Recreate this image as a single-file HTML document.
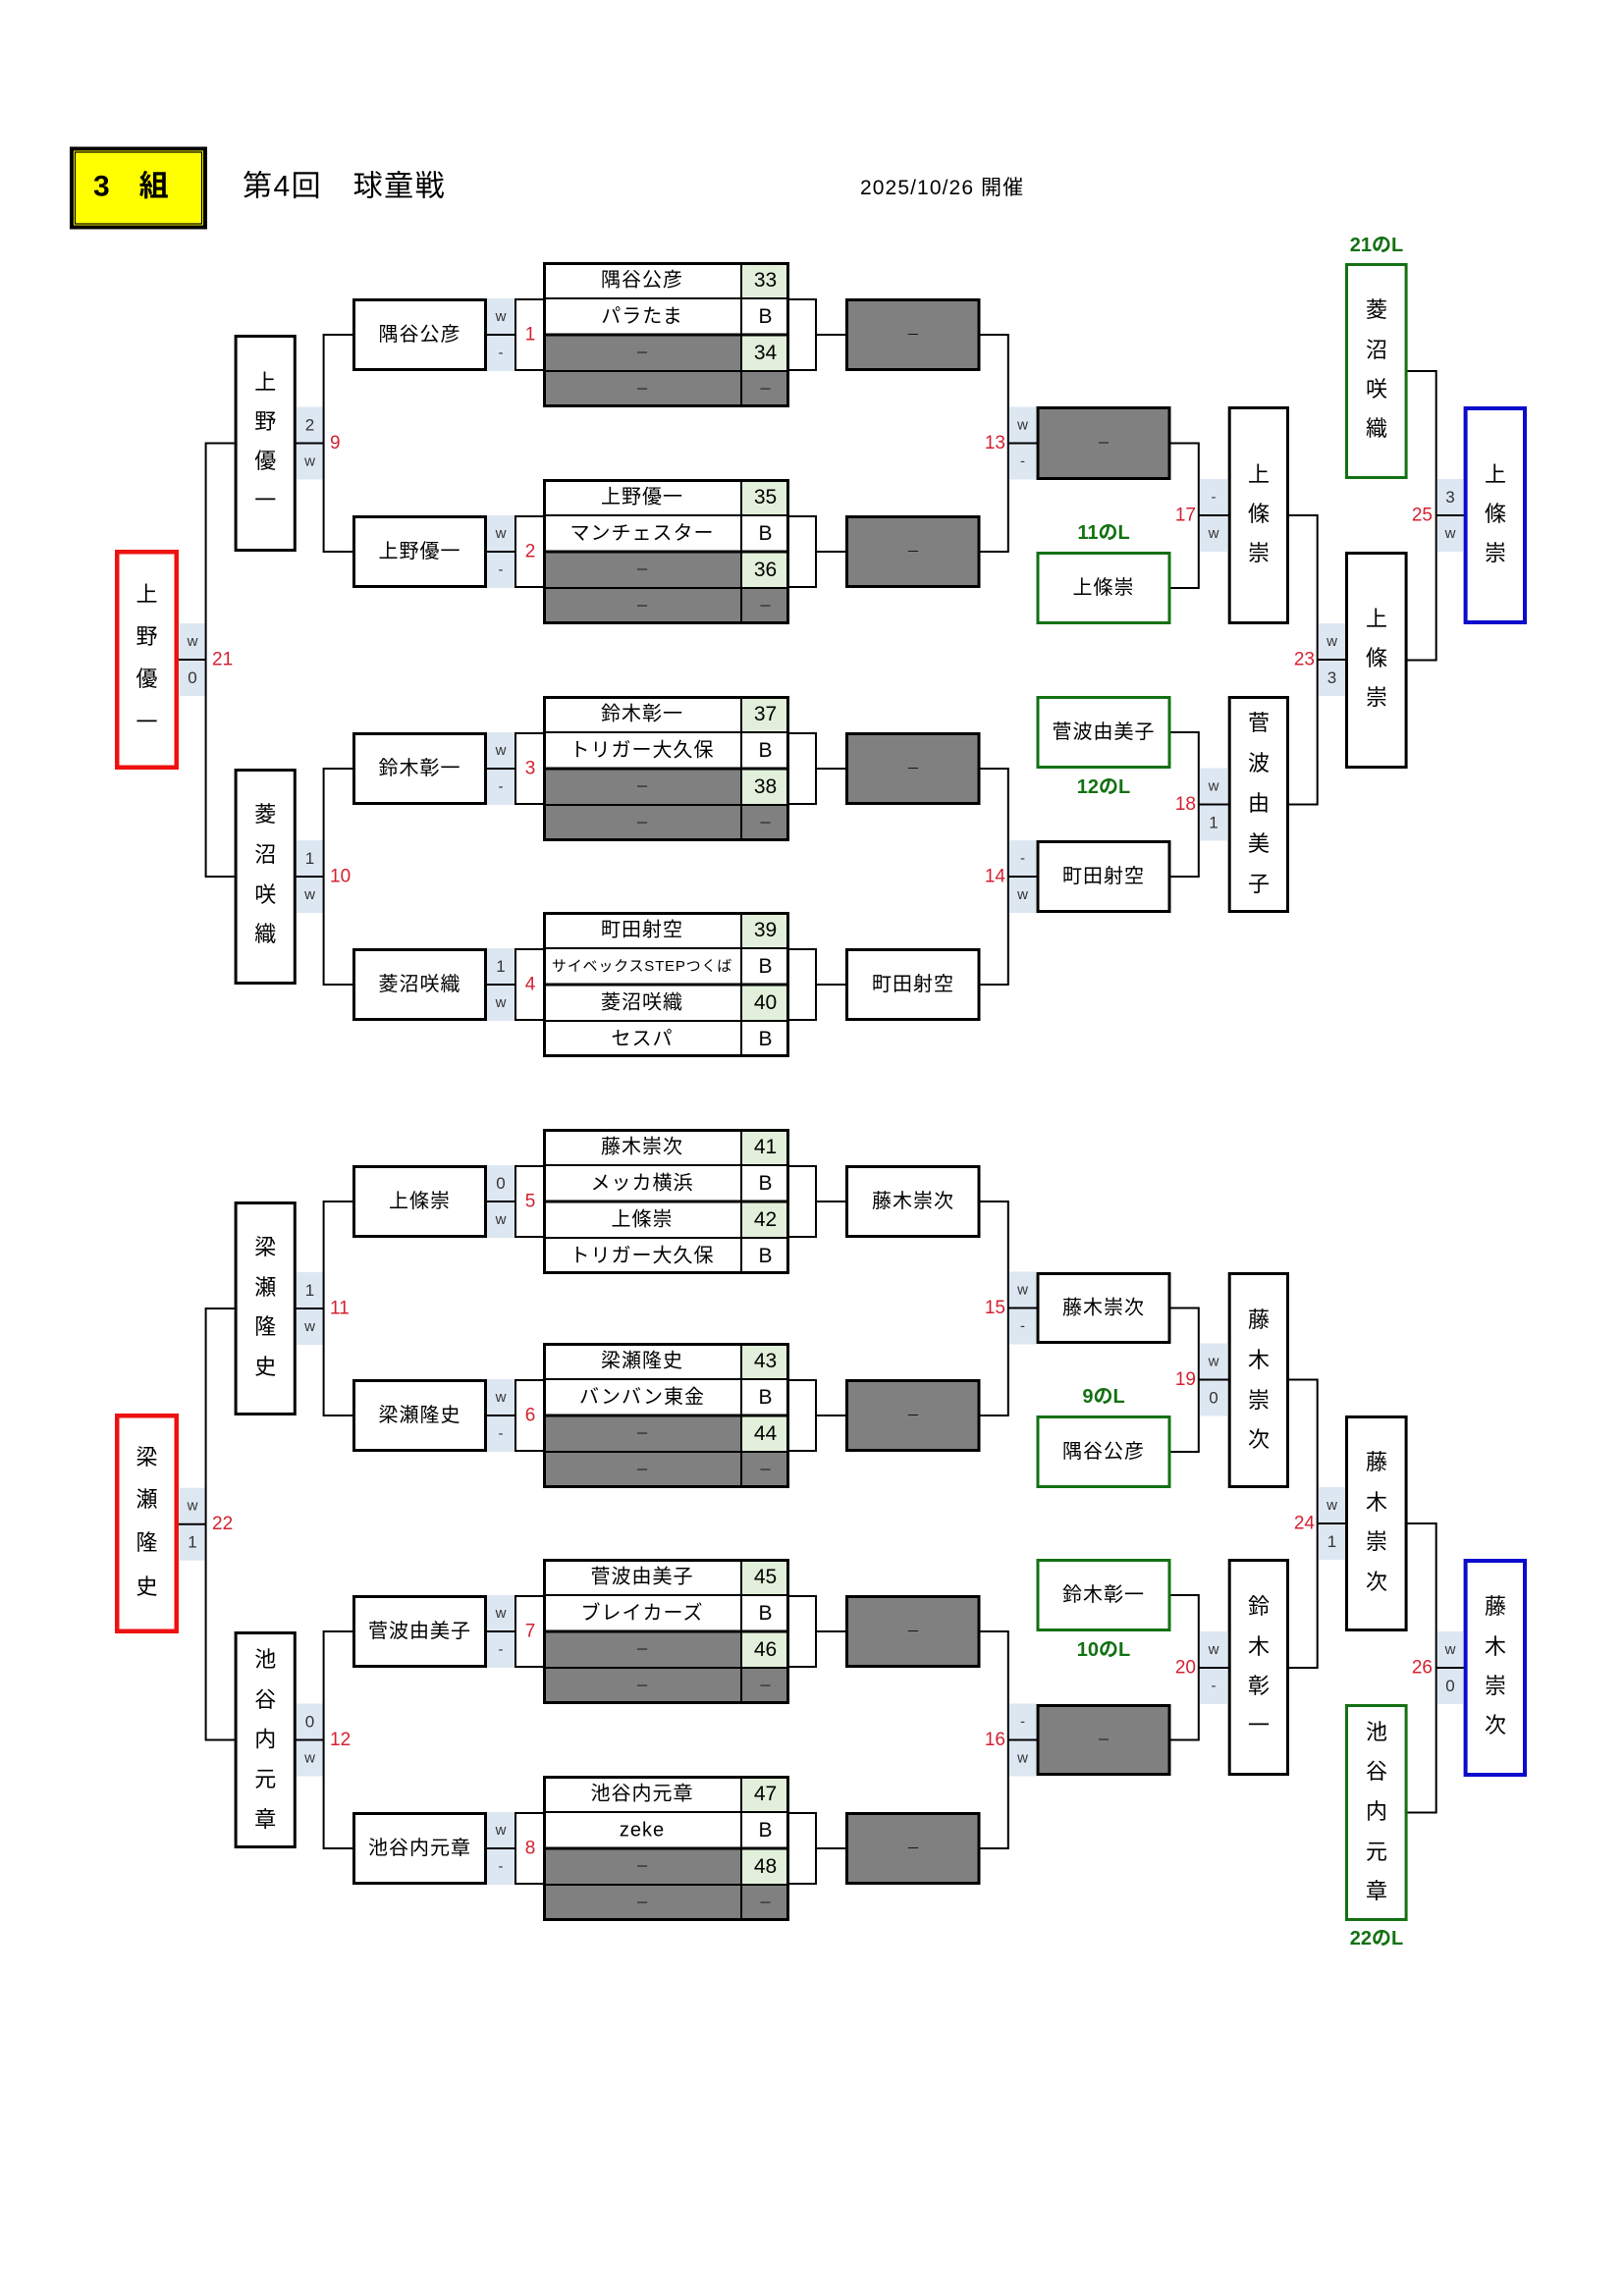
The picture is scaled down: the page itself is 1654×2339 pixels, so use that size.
<!DOCTYPE html>
<html><head><meta charset="utf-8"><title>3組 第4回 球童戦</title>
<style>
html,body{margin:0;padding:0;background:#fff;}
svg{display:block;}
text{font-family:"Liberation Sans","Noto Sans CJK JP",sans-serif;}
.n{font-size:20px;letter-spacing:1px;text-anchor:middle;dominant-baseline:central;}
.ns{font-size:15px;letter-spacing:0.8px;text-anchor:middle;dominant-baseline:central;}
.num{font-size:21px;text-anchor:middle;dominant-baseline:central;}
.c{font-size:15px;fill:#333;text-anchor:middle;dominant-baseline:central;}
.cd{font-size:17px;fill:#333;text-anchor:middle;dominant-baseline:central;}
.r{font-size:19px;fill:#d42030;dominant-baseline:central;}
.rm{font-size:19px;fill:#d42030;dominant-baseline:central;text-anchor:middle;}
.re{font-size:19px;fill:#d42030;dominant-baseline:central;text-anchor:end;}
.v{font-size:22px;text-anchor:middle;dominant-baseline:central;}
.g{font-size:20px;font-weight:bold;fill:#137113;text-anchor:middle;dominant-baseline:central;}
.d{font-size:14px;fill:#111;text-anchor:middle;dominant-baseline:central;}
.bx{fill:#fff;stroke:#000;stroke-width:3;}
.bxn{fill:none;stroke:#000;stroke-width:3;}
.gr{fill:#808080;}
.gb{fill:#fff;stroke:#137113;stroke-width:3;}
.rb{fill:#fff;stroke:#ee1111;stroke-width:4.5;}
.bb{fill:#fff;stroke:#0b0bcc;stroke-width:4;}
.thin{fill:#fff;stroke:#000;stroke-width:2;}
.ln{fill:none;stroke:#000;stroke-width:2;}
.lt{fill:none;stroke:#000;stroke-width:3;}
.cell{fill:#dde7f2;}
</style></head>
<body>
<svg width="1654" height="2339" viewBox="0 0 1654 2339" xmlns="http://www.w3.org/2000/svg">
<rect x="0" y="0" width="1654" height="2339" fill="#fff"/>

<!-- Header -->
<rect x="73" y="151.5" width="136" height="80" fill="#ffff00" stroke="#000" stroke-width="4"/>
<rect x="76.5" y="155" width="129" height="73" fill="none" stroke="#000" stroke-width="1.2"/>
<text x="95" y="190" style="font-size:30px;font-weight:bold;dominant-baseline:central;">3　組</text>
<text x="247" y="190" style="font-size:30px;letter-spacing:1.5px;dominant-baseline:central;">第4回　球童戦</text>
<text x="876" y="191.5" style="font-size:21px;letter-spacing:1.1px;dominant-baseline:central;">2025/10/26 開催</text>

<!-- ============ blue cells (behind lines) ============ -->
<rect class="cell" x="302" y="414.5" width="27" height="74"/>
<rect class="cell" x="302" y="856" width="27" height="74"/>
<rect class="cell" x="302" y="1296" width="27" height="74"/>
<rect class="cell" x="302" y="1735.5" width="27" height="74"/>
<rect class="cell" x="182.5" y="635" width="27" height="74"/>
<rect class="cell" x="182.5" y="1515.7" width="27" height="74"/>
<rect class="cell" x="1028" y="414.5" width="27" height="74"/>
<rect class="cell" x="1028" y="856" width="27" height="74"/>
<rect class="cell" x="1028" y="1295.5" width="27" height="74"/>
<rect class="cell" x="1028" y="1735.5" width="27" height="74"/>
<rect class="cell" x="1222" y="488" width="28" height="74"/>
<rect class="cell" x="1222" y="782.5" width="28" height="74"/>
<rect class="cell" x="1222" y="1368.5" width="28" height="74"/>
<rect class="cell" x="1222" y="1662" width="28" height="74"/>
<rect class="cell" x="1343" y="635" width="27" height="74"/>
<rect class="cell" x="1343" y="1515" width="27" height="74"/>
<rect class="cell" x="1464" y="488" width="26" height="74"/>
<rect class="cell" x="1464" y="1662" width="26" height="74"/>

<!-- ============ bracket lines ============ -->
<polyline class="ln" points="359,341 329.6,341 329.6,562 359,562"/>
<line class="ln" x1="301" y1="451.5" x2="329.6" y2="451.5"/>
<polyline class="ln" points="359,783 329.6,783 329.6,1003 359,1003"/>
<line class="ln" x1="301" y1="893" x2="329.6" y2="893"/>
<polyline class="ln" points="359,1224 329.6,1224 329.6,1442 359,1442"/>
<line class="ln" x1="301" y1="1333" x2="329.6" y2="1333"/>
<polyline class="ln" points="359,1662 329.6,1662 329.6,1883 359,1883"/>
<line class="ln" x1="301" y1="1772.5" x2="329.6" y2="1772.5"/>
<polyline class="ln" points="238.6,451.5 209.6,451.5 209.6,893 238.6,893"/>
<line class="ln" x1="181" y1="672" x2="209.6" y2="672"/>
<polyline class="ln" points="238.6,1333 209.6,1333 209.6,1772.5 238.6,1772.5"/>
<line class="ln" x1="181" y1="1552.7" x2="209.6" y2="1552.7"/>

<polyline class="ln" points="998,341 1026.8,341 1026.8,562 998,562"/>
<line class="ln" x1="1026.8" y1="451.5" x2="1056" y2="451.5"/>
<polyline class="ln" points="998,783 1026.8,783 1026.8,1003 998,1003"/>
<line class="ln" x1="1026.8" y1="893" x2="1056" y2="893"/>
<polyline class="ln" points="998,1224 1026.8,1224 1026.8,1442 998,1442"/>
<line class="ln" x1="1026.8" y1="1332.5" x2="1056" y2="1332.5"/>
<polyline class="ln" points="998,1662 1026.8,1662 1026.8,1883 998,1883"/>
<line class="ln" x1="1026.8" y1="1772.5" x2="1056" y2="1772.5"/>

<polyline class="ln" points="1192,451.5 1220.8,451.5 1220.8,599 1192,599"/>
<line class="ln" x1="1220.8" y1="525" x2="1251" y2="525"/>
<polyline class="ln" points="1192,746 1220.8,746 1220.8,893 1192,893"/>
<line class="ln" x1="1220.8" y1="819.5" x2="1251" y2="819.5"/>
<polyline class="ln" points="1192,1332.5 1220.8,1332.5 1220.8,1479 1192,1479"/>
<line class="ln" x1="1220.8" y1="1405.5" x2="1251" y2="1405.5"/>
<polyline class="ln" points="1192,1625 1220.8,1625 1220.8,1772.5 1192,1772.5"/>
<line class="ln" x1="1220.8" y1="1699" x2="1251" y2="1699"/>

<polyline class="ln" points="1313,525 1341.7,525 1341.7,819.5 1313,819.5"/>
<line class="ln" x1="1341.7" y1="672" x2="1370" y2="672"/>
<polyline class="ln" points="1313,1405.5 1341.7,1405.5 1341.7,1699 1313,1699"/>
<line class="ln" x1="1341.7" y1="1552" x2="1370" y2="1552"/>

<polyline class="ln" points="1433,378 1462.7,378 1462.7,672.5 1433,672.5"/>
<line class="ln" x1="1462.7" y1="525" x2="1491" y2="525"/>
<polyline class="ln" points="1433,1552 1462.7,1552 1462.7,1846.5 1433,1846.5"/>
<line class="ln" x1="1462.7" y1="1699" x2="1491" y2="1699"/>

<!-- ============ cell texts ============ -->
<text class="cd" x="315.5" y="433">2</text><text class="c" x="315.5" y="470">w</text>
<text class="cd" x="315.5" y="874.5">1</text><text class="c" x="315.5" y="911.5">w</text>
<text class="cd" x="315.5" y="1314.5">1</text><text class="c" x="315.5" y="1351.5">w</text>
<text class="cd" x="315.5" y="1754">0</text><text class="c" x="315.5" y="1791">w</text>
<text class="c" x="196" y="653.5">w</text><text class="cd" x="196" y="690.5">0</text>
<text class="c" x="196" y="1534.2">w</text><text class="cd" x="196" y="1571.2">1</text>

<text class="c" x="1041.5" y="433">w</text><text class="c" x="1041.5" y="470">-</text>
<text class="c" x="1041.5" y="874.5">-</text><text class="c" x="1041.5" y="911.5">w</text>
<text class="c" x="1041.5" y="1314">w</text><text class="c" x="1041.5" y="1351">-</text>
<text class="c" x="1041.5" y="1754">-</text><text class="c" x="1041.5" y="1791">w</text>

<text class="c" x="1236" y="506.5">-</text><text class="c" x="1236" y="543.5">w</text>
<text class="c" x="1236" y="801">w</text><text class="cd" x="1236" y="838">1</text>
<text class="c" x="1236" y="1387">w</text><text class="cd" x="1236" y="1424">0</text>
<text class="c" x="1236" y="1680.5">w</text><text class="c" x="1236" y="1717.5">-</text>

<text class="c" x="1356.5" y="653.5">w</text><text class="cd" x="1356.5" y="690.5">3</text>
<text class="c" x="1356.5" y="1533.5">w</text><text class="cd" x="1356.5" y="1570.5">1</text>

<text class="cd" x="1477" y="506.5">3</text><text class="c" x="1477" y="543.5">w</text>
<text class="c" x="1477" y="1680.5">w</text><text class="cd" x="1477" y="1717.5">0</text>

<!-- ============ red match numbers ============ -->
<text class="r" x="336" y="451.5">9</text>
<text class="r" x="336" y="893">10</text>
<text class="r" x="336" y="1333">11</text>
<text class="r" x="336" y="1772.5">12</text>
<text class="r" x="216" y="672">21</text>
<text class="r" x="216" y="1552.7">22</text>
<text class="re" x="1024" y="451.5">13</text>
<text class="re" x="1024" y="893">14</text>
<text class="re" x="1024" y="1332.5">15</text>
<text class="re" x="1024" y="1772.5">16</text>
<text class="re" x="1218" y="525">17</text>
<text class="re" x="1218" y="819.5">18</text>
<text class="re" x="1218" y="1405.5">19</text>
<text class="re" x="1218" y="1699">20</text>
<text class="re" x="1339" y="672">23</text>
<text class="re" x="1339" y="1552">24</text>
<text class="re" x="1459" y="525">25</text>
<text class="re" x="1459" y="1699">26</text>

<!-- ============ R1 groups (tables) ============ -->
<!-- T1 -->
<g transform="translate(0,267)">
<rect class="thin" x="525" y="38" width="306" height="72"/>
<line class="ln" x1="831" y1="74" x2="862" y2="74"/>
<rect class="cell" x="496" y="37" width="28" height="74"/>
<line class="ln" x1="495" y1="74" x2="525" y2="74"/>
<text class="c" x="510" y="55.5">w</text><text class="c" x="510" y="92.5">-</text>
<text class="rm" x="540" y="74">1</text>
<rect class="bx" x="360.5" y="38.5" width="134" height="71"/>
<text class="n" x="427.5" y="74">隅谷公彦</text>
<rect class="bx gr" x="862.5" y="38.5" width="134.5" height="71"/>
<text class="d" x="930" y="74">－</text>
<rect x="553" y="0" width="202" height="74" fill="#fff"/>
<rect x="553" y="74" width="202" height="74" fill="#808080"/>
<rect x="755" y="0" width="49" height="37" fill="#e2efda"/>
<rect x="755" y="37" width="49" height="37" fill="#fff"/>
<rect x="755" y="74" width="49" height="37" fill="#e2efda"/>
<rect x="755" y="111" width="49" height="37" fill="#808080"/>
<path class="ln" d="M553 37H804M553 111H804M755 0V148"/>
<path class="lt" d="M553 74H804"/>
<rect class="bxn" x="554.5" y="1.5" width="248" height="145"/>
<text class="n" x="654" y="18.5">隅谷公彦</text><text class="num" x="779.5" y="18.5">33</text>
<text class="n" x="654" y="55.5">パラたま</text><text class="num" x="779.5" y="55.5">B</text>
<text class="d" x="654" y="92.5">－</text><text class="num" x="779.5" y="92.5">34</text>
<text class="d" x="654" y="129.5">－</text><text class="d" x="779.5" y="129.5">－</text>
</g>

<!-- T2 -->
<g transform="translate(0,488)">
<rect class="thin" x="525" y="38" width="306" height="72"/>
<line class="ln" x1="831" y1="74" x2="862" y2="74"/>
<rect class="cell" x="496" y="37" width="28" height="74"/>
<line class="ln" x1="495" y1="74" x2="525" y2="74"/>
<text class="c" x="510" y="55.5">w</text><text class="c" x="510" y="92.5">-</text>
<text class="rm" x="540" y="74">2</text>
<rect class="bx" x="360.5" y="38.5" width="134" height="71"/>
<text class="n" x="427.5" y="74">上野優一</text>
<rect class="bx gr" x="862.5" y="38.5" width="134.5" height="71"/>
<text class="d" x="930" y="74">－</text>
<rect x="553" y="0" width="202" height="74" fill="#fff"/>
<rect x="553" y="74" width="202" height="74" fill="#808080"/>
<rect x="755" y="0" width="49" height="37" fill="#e2efda"/>
<rect x="755" y="37" width="49" height="37" fill="#fff"/>
<rect x="755" y="74" width="49" height="37" fill="#e2efda"/>
<rect x="755" y="111" width="49" height="37" fill="#808080"/>
<path class="ln" d="M553 37H804M553 111H804M755 0V148"/>
<path class="lt" d="M553 74H804"/>
<rect class="bxn" x="554.5" y="1.5" width="248" height="145"/>
<text class="n" x="654" y="18.5">上野優一</text><text class="num" x="779.5" y="18.5">35</text>
<text class="n" x="654" y="55.5">マンチェスター</text><text class="num" x="779.5" y="55.5">B</text>
<text class="d" x="654" y="92.5">－</text><text class="num" x="779.5" y="92.5">36</text>
<text class="d" x="654" y="129.5">－</text><text class="d" x="779.5" y="129.5">－</text>
</g>

<!-- T3 -->
<g transform="translate(0,709)">
<rect class="thin" x="525" y="38" width="306" height="72"/>
<line class="ln" x1="831" y1="74" x2="862" y2="74"/>
<rect class="cell" x="496" y="37" width="28" height="74"/>
<line class="ln" x1="495" y1="74" x2="525" y2="74"/>
<text class="c" x="510" y="55.5">w</text><text class="c" x="510" y="92.5">-</text>
<text class="rm" x="540" y="74">3</text>
<rect class="bx" x="360.5" y="38.5" width="134" height="71"/>
<text class="n" x="427.5" y="74">鈴木彰一</text>
<rect class="bx gr" x="862.5" y="38.5" width="134.5" height="71"/>
<text class="d" x="930" y="74">－</text>
<rect x="553" y="0" width="202" height="74" fill="#fff"/>
<rect x="553" y="74" width="202" height="74" fill="#808080"/>
<rect x="755" y="0" width="49" height="37" fill="#e2efda"/>
<rect x="755" y="37" width="49" height="37" fill="#fff"/>
<rect x="755" y="74" width="49" height="37" fill="#e2efda"/>
<rect x="755" y="111" width="49" height="37" fill="#808080"/>
<path class="ln" d="M553 37H804M553 111H804M755 0V148"/>
<path class="lt" d="M553 74H804"/>
<rect class="bxn" x="554.5" y="1.5" width="248" height="145"/>
<text class="n" x="654" y="18.5">鈴木彰一</text><text class="num" x="779.5" y="18.5">37</text>
<text class="n" x="654" y="55.5">トリガー大久保</text><text class="num" x="779.5" y="55.5">B</text>
<text class="d" x="654" y="92.5">－</text><text class="num" x="779.5" y="92.5">38</text>
<text class="d" x="654" y="129.5">－</text><text class="d" x="779.5" y="129.5">－</text>
</g>

<!-- T4 -->
<g transform="translate(0,929)">
<rect class="thin" x="525" y="38" width="306" height="72"/>
<line class="ln" x1="831" y1="74" x2="862" y2="74"/>
<rect class="cell" x="496" y="37" width="28" height="74"/>
<line class="ln" x1="495" y1="74" x2="525" y2="74"/>
<text class="cd" x="510" y="55.5">1</text><text class="c" x="510" y="92.5">w</text>
<text class="rm" x="540" y="74">4</text>
<rect class="bx" x="360.5" y="38.5" width="134" height="71"/>
<text class="n" x="427.5" y="74">菱沼咲織</text>
<rect class="bx" x="862.5" y="38.5" width="134.5" height="71"/>
<text class="n" x="930" y="74">町田射空</text>
<rect x="553" y="0" width="202" height="148" fill="#fff"/>
<rect x="755" y="0" width="49" height="37" fill="#e2efda"/>
<rect x="755" y="37" width="49" height="37" fill="#fff"/>
<rect x="755" y="74" width="49" height="37" fill="#e2efda"/>
<rect x="755" y="111" width="49" height="37" fill="#fff"/>
<path class="ln" d="M553 37H804M553 111H804M755 0V148"/>
<path class="lt" d="M553 74H804"/>
<rect class="bxn" x="554.5" y="1.5" width="248" height="145"/>
<text class="n" x="654" y="18.5">町田射空</text><text class="num" x="779.5" y="18.5">39</text>
<text class="ns" x="654" y="55.5">サイベックスSTEPつくば</text><text class="num" x="779.5" y="55.5">B</text>
<text class="n" x="654" y="92.5">菱沼咲織</text><text class="num" x="779.5" y="92.5">40</text>
<text class="n" x="654" y="129.5">セスパ</text><text class="num" x="779.5" y="129.5">B</text>
</g>

<!-- T5 -->
<g transform="translate(0,1150)">
<rect class="thin" x="525" y="38" width="306" height="72"/>
<line class="ln" x1="831" y1="74" x2="862" y2="74"/>
<rect class="cell" x="496" y="37" width="28" height="74"/>
<line class="ln" x1="495" y1="74" x2="525" y2="74"/>
<text class="cd" x="510" y="55.5">0</text><text class="c" x="510" y="92.5">w</text>
<text class="rm" x="540" y="74">5</text>
<rect class="bx" x="360.5" y="38.5" width="134" height="71"/>
<text class="n" x="427.5" y="74">上條崇</text>
<rect class="bx" x="862.5" y="38.5" width="134.5" height="71"/>
<text class="n" x="930" y="74">藤木崇次</text>
<rect x="553" y="0" width="202" height="148" fill="#fff"/>
<rect x="755" y="0" width="49" height="37" fill="#e2efda"/>
<rect x="755" y="37" width="49" height="37" fill="#fff"/>
<rect x="755" y="74" width="49" height="37" fill="#e2efda"/>
<rect x="755" y="111" width="49" height="37" fill="#fff"/>
<path class="ln" d="M553 37H804M553 111H804M755 0V148"/>
<path class="lt" d="M553 74H804"/>
<rect class="bxn" x="554.5" y="1.5" width="248" height="145"/>
<text class="n" x="654" y="18.5">藤木崇次</text><text class="num" x="779.5" y="18.5">41</text>
<text class="n" x="654" y="55.5">メッカ横浜</text><text class="num" x="779.5" y="55.5">B</text>
<text class="n" x="654" y="92.5">上條崇</text><text class="num" x="779.5" y="92.5">42</text>
<text class="n" x="654" y="129.5">トリガー大久保</text><text class="num" x="779.5" y="129.5">B</text>
</g>

<!-- T6 -->
<g transform="translate(0,1368)">
<rect class="thin" x="525" y="38" width="306" height="72"/>
<line class="ln" x1="831" y1="74" x2="862" y2="74"/>
<rect class="cell" x="496" y="37" width="28" height="74"/>
<line class="ln" x1="495" y1="74" x2="525" y2="74"/>
<text class="c" x="510" y="55.5">w</text><text class="c" x="510" y="92.5">-</text>
<text class="rm" x="540" y="74">6</text>
<rect class="bx" x="360.5" y="38.5" width="134" height="71"/>
<text class="n" x="427.5" y="74">梁瀬隆史</text>
<rect class="bx gr" x="862.5" y="38.5" width="134.5" height="71"/>
<text class="d" x="930" y="74">－</text>
<rect x="553" y="0" width="202" height="74" fill="#fff"/>
<rect x="553" y="74" width="202" height="74" fill="#808080"/>
<rect x="755" y="0" width="49" height="37" fill="#e2efda"/>
<rect x="755" y="37" width="49" height="37" fill="#fff"/>
<rect x="755" y="74" width="49" height="37" fill="#e2efda"/>
<rect x="755" y="111" width="49" height="37" fill="#808080"/>
<path class="ln" d="M553 37H804M553 111H804M755 0V148"/>
<path class="lt" d="M553 74H804"/>
<rect class="bxn" x="554.5" y="1.5" width="248" height="145"/>
<text class="n" x="654" y="18.5">梁瀬隆史</text><text class="num" x="779.5" y="18.5">43</text>
<text class="n" x="654" y="55.5">バンバン東金</text><text class="num" x="779.5" y="55.5">B</text>
<text class="d" x="654" y="92.5">－</text><text class="num" x="779.5" y="92.5">44</text>
<text class="d" x="654" y="129.5">－</text><text class="d" x="779.5" y="129.5">－</text>
</g>

<!-- T7 -->
<g transform="translate(0,1588)">
<rect class="thin" x="525" y="38" width="306" height="72"/>
<line class="ln" x1="831" y1="74" x2="862" y2="74"/>
<rect class="cell" x="496" y="37" width="28" height="74"/>
<line class="ln" x1="495" y1="74" x2="525" y2="74"/>
<text class="c" x="510" y="55.5">w</text><text class="c" x="510" y="92.5">-</text>
<text class="rm" x="540" y="74">7</text>
<rect class="bx" x="360.5" y="38.5" width="134" height="71"/>
<text class="n" x="427.5" y="74">菅波由美子</text>
<rect class="bx gr" x="862.5" y="38.5" width="134.5" height="71"/>
<text class="d" x="930" y="74">－</text>
<rect x="553" y="0" width="202" height="74" fill="#fff"/>
<rect x="553" y="74" width="202" height="74" fill="#808080"/>
<rect x="755" y="0" width="49" height="37" fill="#e2efda"/>
<rect x="755" y="37" width="49" height="37" fill="#fff"/>
<rect x="755" y="74" width="49" height="37" fill="#e2efda"/>
<rect x="755" y="111" width="49" height="37" fill="#808080"/>
<path class="ln" d="M553 37H804M553 111H804M755 0V148"/>
<path class="lt" d="M553 74H804"/>
<rect class="bxn" x="554.5" y="1.5" width="248" height="145"/>
<text class="n" x="654" y="18.5">菅波由美子</text><text class="num" x="779.5" y="18.5">45</text>
<text class="n" x="654" y="55.5">ブレイカーズ</text><text class="num" x="779.5" y="55.5">B</text>
<text class="d" x="654" y="92.5">－</text><text class="num" x="779.5" y="92.5">46</text>
<text class="d" x="654" y="129.5">－</text><text class="d" x="779.5" y="129.5">－</text>
</g>

<!-- T8 -->
<g transform="translate(0,1809)">
<rect class="thin" x="525" y="38" width="306" height="72"/>
<line class="ln" x1="831" y1="74" x2="862" y2="74"/>
<rect class="cell" x="496" y="37" width="28" height="74"/>
<line class="ln" x1="495" y1="74" x2="525" y2="74"/>
<text class="c" x="510" y="55.5">w</text><text class="c" x="510" y="92.5">-</text>
<text class="rm" x="540" y="74">8</text>
<rect class="bx" x="360.5" y="38.5" width="134" height="71"/>
<text class="n" x="427.5" y="74">池谷内元章</text>
<rect class="bx gr" x="862.5" y="38.5" width="134.5" height="71"/>
<text class="d" x="930" y="74">－</text>
<rect x="553" y="0" width="202" height="74" fill="#fff"/>
<rect x="553" y="74" width="202" height="74" fill="#808080"/>
<rect x="755" y="0" width="49" height="37" fill="#e2efda"/>
<rect x="755" y="37" width="49" height="37" fill="#fff"/>
<rect x="755" y="74" width="49" height="37" fill="#e2efda"/>
<rect x="755" y="111" width="49" height="37" fill="#808080"/>
<path class="ln" d="M553 37H804M553 111H804M755 0V148"/>
<path class="lt" d="M553 74H804"/>
<rect class="bxn" x="554.5" y="1.5" width="248" height="145"/>
<text class="n" x="654" y="18.5">池谷内元章</text><text class="num" x="779.5" y="18.5">47</text>
<text class="n" x="654" y="55.5">zeke</text><text class="num" x="779.5" y="55.5">B</text>
<text class="d" x="654" y="92.5">－</text><text class="num" x="779.5" y="92.5">48</text>
<text class="d" x="654" y="129.5">－</text><text class="d" x="779.5" y="129.5">－</text>
</g>

<!-- ============ left R2 / R3 boxes ============ -->
<rect class="bx" x="240.1" y="342.5" width="60.2" height="218"/>
<text class="v" x="270.2"><tspan x="270.2" y="389">上</tspan><tspan x="270.2" y="429">野</tspan><tspan x="270.2" y="469">優</tspan><tspan x="270.2" y="509">一</tspan></text>
<rect class="bx" x="240.1" y="784.5" width="60.2" height="217"/>
<text class="v" x="270.2"><tspan x="270.2" y="829">菱</tspan><tspan x="270.2" y="870">沼</tspan><tspan x="270.2" y="911">咲</tspan><tspan x="270.2" y="951">織</tspan></text>
<rect class="bx" x="240.1" y="1225.5" width="60.2" height="215"/>
<text class="v" x="270.2"><tspan x="270.2" y="1270">梁</tspan><tspan x="270.2" y="1311">瀬</tspan><tspan x="270.2" y="1351">隆</tspan><tspan x="270.2" y="1392">史</tspan></text>
<rect class="bx" x="240.1" y="1663.5" width="60.2" height="218"/>
<text class="v" x="270.2"><tspan x="270.2" y="1690">池</tspan><tspan x="270.2" y="1731">谷</tspan><tspan x="270.2" y="1771.5">内</tspan><tspan x="270.2" y="1812">元</tspan><tspan x="270.2" y="1853">章</tspan></text>

<rect class="rb" x="119.25" y="562.25" width="60.5" height="219.5"/>
<text class="v" x="149.5"><tspan x="149.5" y="605">上</tspan><tspan x="149.5" y="648">野</tspan><tspan x="149.5" y="691">優</tspan><tspan x="149.5" y="735">一</tspan></text>
<rect class="rb" x="119.25" y="1442.25" width="60.5" height="219.5"/>
<text class="v" x="149.5"><tspan x="149.5" y="1484">梁</tspan><tspan x="149.5" y="1527">瀬</tspan><tspan x="149.5" y="1571">隆</tspan><tspan x="149.5" y="1616">史</tspan></text>

<!-- ============ right col2 boxes ============ -->
<rect class="bx gr" x="1057" y="415.5" width="134" height="72"/>
<text class="d" x="1124" y="451.5">－</text>
<rect class="gb" x="1057" y="563.5" width="134" height="71"/>
<text class="n" x="1124" y="599">上條崇</text>
<text class="g" x="1124" y="543">11のL</text>
<rect class="gb" x="1057" y="710.5" width="134" height="71"/>
<text class="n" x="1124" y="746">菅波由美子</text>
<text class="g" x="1124" y="802">12のL</text>
<rect class="bx" x="1057" y="857.5" width="134" height="71"/>
<text class="n" x="1124" y="893">町田射空</text>

<rect class="bx" x="1057" y="1297.5" width="134" height="70"/>
<text class="n" x="1124" y="1332.5">藤木崇次</text>
<text class="g" x="1124" y="1423">9のL</text>
<rect class="gb" x="1057" y="1443.5" width="134" height="71"/>
<text class="n" x="1124" y="1479">隅谷公彦</text>
<rect class="gb" x="1057" y="1589.5" width="134" height="71"/>
<text class="n" x="1124" y="1625">鈴木彰一</text>
<text class="g" x="1124" y="1681">10のL</text>
<rect class="bx gr" x="1057" y="1737.5" width="134" height="70"/>
<text class="d" x="1124" y="1772.5">－</text>

<!-- ============ col3 boxes ============ -->
<rect class="bx" x="1252.2" y="415.5" width="59.3" height="219"/>
<text class="v" x="1282"><tspan x="1282" y="483">上</tspan><tspan x="1282" y="523">條</tspan><tspan x="1282" y="563">崇</tspan></text>
<rect class="bx" x="1252.2" y="710.5" width="59.3" height="218"/>
<text class="v" x="1282"><tspan x="1282" y="736">菅</tspan><tspan x="1282" y="777">波</tspan><tspan x="1282" y="818">由</tspan><tspan x="1282" y="859">美</tspan><tspan x="1282" y="900">子</tspan></text>
<rect class="bx" x="1252.2" y="1297.5" width="59.3" height="217"/>
<text class="v" x="1282"><tspan x="1282" y="1344">藤</tspan><tspan x="1282" y="1385">木</tspan><tspan x="1282" y="1426">崇</tspan><tspan x="1282" y="1466">次</tspan></text>
<rect class="bx" x="1252.2" y="1589.5" width="59.3" height="218"/>
<text class="v" x="1282"><tspan x="1282" y="1636">鈴</tspan><tspan x="1282" y="1677">木</tspan><tspan x="1282" y="1717">彰</tspan><tspan x="1282" y="1757">一</tspan></text>

<!-- ============ col4 boxes ============ -->
<rect class="gb" x="1371.5" y="269.5" width="60.6" height="217"/>
<text class="v" x="1402"><tspan x="1402" y="315">菱</tspan><tspan x="1402" y="356">沼</tspan><tspan x="1402" y="396">咲</tspan><tspan x="1402" y="436">織</tspan></text>
<text class="g" x="1402" y="250">21のL</text>
<rect class="bx" x="1371.5" y="563.5" width="60.6" height="218"/>
<text class="v" x="1402"><tspan x="1402" y="630">上</tspan><tspan x="1402" y="670">條</tspan><tspan x="1402" y="710">崇</tspan></text>
<rect class="bx" x="1371.5" y="1443.5" width="60.6" height="217"/>
<text class="v" x="1402"><tspan x="1402" y="1489">藤</tspan><tspan x="1402" y="1530">木</tspan><tspan x="1402" y="1570">崇</tspan><tspan x="1402" y="1611">次</tspan></text>
<rect class="gb" x="1371.5" y="1737.5" width="60.6" height="218"/>
<text class="v" x="1402"><tspan x="1402" y="1764">池</tspan><tspan x="1402" y="1804">谷</tspan><tspan x="1402" y="1845">内</tspan><tspan x="1402" y="1886">元</tspan><tspan x="1402" y="1926">章</tspan></text>
<text class="g" x="1402" y="1975">22のL</text>

<!-- ============ blue final boxes ============ -->
<rect class="bb" x="1492.6" y="416" width="60.4" height="218"/>
<text class="v" x="1523"><tspan x="1523" y="483">上</tspan><tspan x="1523" y="523">條</tspan><tspan x="1523" y="563">崇</tspan></text>
<rect class="bb" x="1492.6" y="1590" width="60.4" height="218"/>
<text class="v" x="1523"><tspan x="1523" y="1636">藤</tspan><tspan x="1523" y="1677">木</tspan><tspan x="1523" y="1717">崇</tspan><tspan x="1523" y="1757">次</tspan></text>

</svg>
</body></html>
